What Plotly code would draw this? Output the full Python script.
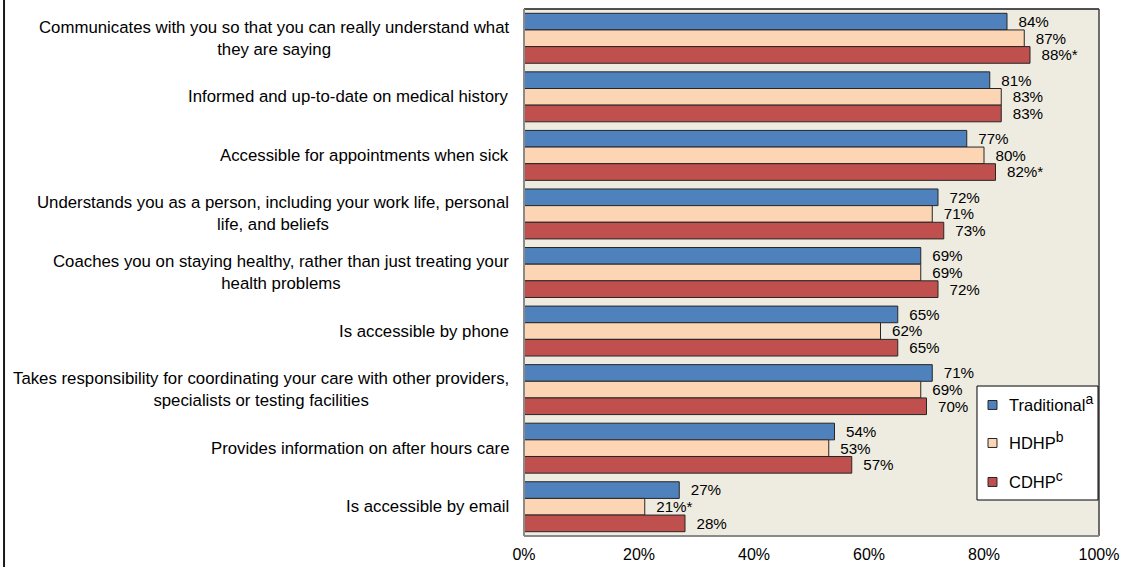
import plotly.graph_objects as go

categories = [
    "Communicates with you so that you can really understand what<br>they are saying",
    "Informed and up-to-date on medical history",
    "Accessible for appointments when sick",
    "Understands you as a person, including your work life, personal<br>life, and beliefs",
    "Coaches you on staying healthy, rather than just treating your<br>health problems",
    "Is accessible by phone",
    "Takes responsibility for coordinating your care with other providers,<br>specialists or testing facilities",
    "Provides information on after hours care",
    "Is accessible by email",
]
traditional = [84, 81, 77, 72, 69, 65, 71, 54, 27]
hdhp = [87, 83, 80, 71, 69, 62, 69, 53, 21]
cdhp = [88, 83, 82, 73, 72, 65, 70, 57, 28]
traditional_flags = ["", "", "", "", "", "", "", "", ""]
hdhp_flags = ["", "", "", "", "", "", "", "", "*"]
cdhp_flags = ["*", "", "*", "", "", "", "", "", ""]
series_names = ["Traditional", "HDHP", "CDHP"]
series_notes = ["a", "b", "c"]
colors = ["#4F81BD", "#FCD5B5", "#C0504D"]
x_ticks = [0, 20, 40, 60, 80, 100]
x_tick_labels = ["0%", "20%", "40%", "60%", "80%", "100%"]

FONT = "Arial, Liberation Sans, sans-serif"
cat_ids = list(range(len(categories)))

fig = go.Figure()
for i, (name, note, vals, flags, col) in enumerate(
    zip(series_names, series_notes, [traditional, hdhp, cdhp],
        [traditional_flags, hdhp_flags, cdhp_flags], colors)):
    fig.add_trace(go.Bar(
        y=cat_ids, x=vals, orientation="h",
        name="%s<sup>%s</sup>" % (name, note),
        marker=dict(color=col, line=dict(color="#262626", width=1)),
        text=["\u00a0\u00a0%d%%%s" % (v, f) for v, f in zip(vals, flags)],
        textposition="outside", cliponaxis=False,
        textfont=dict(family=FONT, size=15.5, color="#000000"),
        showlegend=False,
    ))

for cid, cat in zip(cat_ids, categories):
    fig.add_annotation(
        x=0, xref="paper", y=cid, yref="y", text=cat, showarrow=False,
        xanchor="right", yanchor="middle", align="center", xshift=-13,
        font=dict(family=FONT, size=16.8, color="#000000"),
    )

# plot-area frame (Excel-like)
fig.add_shape(type="line", xref="paper", yref="paper", x0=0, x1=1, y0=1, y1=1,
              line=dict(color="#1a1a1a", width=1.5))
fig.add_shape(type="line", xref="paper", yref="paper", x0=1, x1=1, y0=0, y1=1,
              line=dict(color="#404040", width=1.5))
fig.add_shape(type="line", xref="paper", yref="paper", x0=0, x1=0, y0=0, y1=1,
              line=dict(color="#8a8a8a", width=2))
fig.add_shape(type="line", xref="paper", yref="paper", x0=0, x1=1, y0=0, y1=0,
              line=dict(color="#8a8a8a", width=2))
# outer chart frame line at left
fig.add_shape(type="line", xref="paper", yref="paper", x0=-0.9043, x1=-0.9043,
              y0=-0.1, y1=1.1, line=dict(color="#1a1a1a", width=2))

# legend box (Excel style)
fig.add_shape(type="rect", xref="paper", yref="paper",
              x0=0.7878, x1=0.9983, y0=0.0683, y1=0.2846,
              fillcolor="#FFFFFF", line=dict(color="#000000", width=1), layer="above")
legend_rows = [0.2486, 0.1765, 0.1025]
for name, note, col, yr in zip(series_names, series_notes, colors, legend_rows):
    fig.add_shape(type="rect", xref="paper", yref="paper",
                  x0=0.8070, x1=0.8226, y0=yr - 0.0085, y1=yr + 0.0085,
                  fillcolor=col, line=dict(color="#262626", width=1), layer="above")
    fig.add_annotation(
        x=0.8400, xref="paper", y=yr, yref="paper",
        text="%s<sup><span style='font-size:14px'>%s</span></sup>" % (name, note),
        showarrow=False, xanchor="left", yanchor="middle", yshift=2,
        font=dict(family=FONT, size=16.5, color="#000000"),
    )

fig.update_layout(
    width=1123, height=567,
    margin=dict(l=524, r=24, t=9, b=31, autoexpand=False),
    paper_bgcolor="#FFFFFF", plot_bgcolor="#EEECE1",
    barmode="group", bargap=0.147, bargroupgap=0,
    font=dict(family=FONT, size=15, color="#000000"),
    xaxis=dict(range=[0, 100], tickvals=x_ticks, ticktext=x_tick_labels,
               showgrid=False, zeroline=False, showline=False, automargin=False,
               ticks="outside", ticklen=4, tickcolor="rgba(0,0,0,0)",
               tickfont=dict(family=FONT, size=16, color="#000000")),
    yaxis=dict(range=[8.5, -0.5], showticklabels=False, showgrid=False,
               zeroline=False, showline=False, ticks="", automargin=False),
    showlegend=False,
)

fig.write_html("out.html")
